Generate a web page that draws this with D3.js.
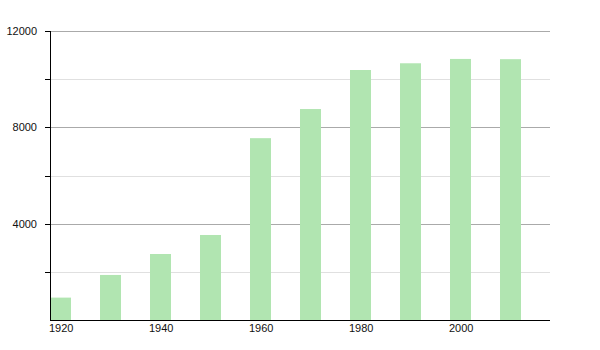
<!DOCTYPE html>
<html>
<head>
<meta charset="utf-8">
<script src="https://cdnjs.cloudflare.com/ajax/libs/d3/7.8.5/d3.min.js"></script>
<style>
  body { margin: 0; background: #fff; }
  text { font-family: "Liberation Sans", Arial, sans-serif; font-size: 11px; fill: #111; }
</style>
</head>
<body>
<svg id="chart" width="600" height="350"></svg>
<script>
var years = [1920, 1930, 1940, 1950, 1960, 1970, 1980, 1990, 2000, 2010];
var population = [930, 1870, 2740, 3530, 7550, 8760, 10380, 10660, 10840, 10830];
var xTickLabels = [1920, 1940, 1960, 1980, 2000];
var yMajorTicks = [4000, 8000, 12000];
var yMinorTicks = [2000, 6000, 10000];

var svg = d3.select('#chart');

var x = d3.scaleLinear().domain([1920, 2020]).range([50, 550]);
var y = d3.scaleLinear().domain([0, 12000]).range([320, 31]);
var barW = x(1924.2) - x(1920);

// grid
svg.append('g').selectAll('line.minor')
    .data(yMinorTicks).enter().append('line')
    .attr('x1', 50).attr('x2', 550)
    .attr('y1', d => Math.round(y(d)) + 0.5).attr('y2', d => Math.round(y(d)) + 0.5)
    .style('stroke', '#e0e0e0');
svg.append('g').selectAll('line.major')
    .data(yMajorTicks).enter().append('line')
    .attr('x1', 50).attr('x2', 550)
    .attr('y1', d => Math.round(y(d)) + 0.5).attr('y2', d => Math.round(y(d)) + 0.5)
    .style('stroke', '#aaaaaa');

// bars
svg.append('g').selectAll('rect')
    .data(years).enter().append('rect')
    .attr('x', d => x(d))
    .attr('width', barW)
    .attr('y', (d, i) => y(population[i]))
    .attr('height', (d, i) => y(0) - y(population[i]))
    .style('fill', '#b1e5b1');

// y axis
var yAxis = svg.append('g');
yAxis.append('line')
    .attr('x1', 50.5).attr('x2', 50.5).attr('y1', y(12000)).attr('y2', y(0))
    .style('stroke', '#000');
yAxis.selectAll('line.tick')
    .data(yMajorTicks.concat(yMinorTicks)).enter().append('line')
    .attr('x1', 45).attr('x2', 50)
    .attr('y1', d => Math.round(y(d)) + 0.5).attr('y2', d => Math.round(y(d)) + 0.5)
    .style('stroke', '#000');
yAxis.selectAll('text')
    .data(yMajorTicks).enter().append('text')
    .attr('x', 37).attr('y', d => y(d) + 4)
    .attr('text-anchor', 'end')
    .text(d => d);

// x axis
var xAxis = svg.append('g');
xAxis.append('line')
    .attr('x1', 50).attr('x2', 550).attr('y1', 320.5).attr('y2', 320.5)
    .style('stroke', '#000');
xAxis.selectAll('text')
    .data(xTickLabels).enter().append('text')
    .attr('x', d => x(d) - 1).attr('y', 332)
    .text(d => d);
</script>
</body>
</html>
